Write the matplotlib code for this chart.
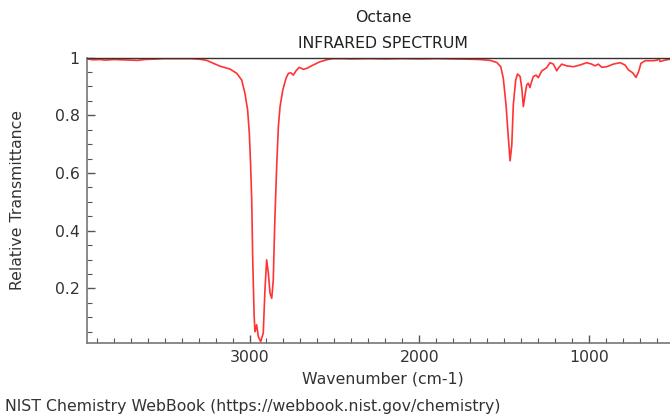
import matplotlib
matplotlib.use("Agg")
import matplotlib.pyplot as plt
from matplotlib.ticker import MultipleLocator, FixedLocator, FixedFormatter

plt.rcParams["font.family"] = ["DejaVu Sans"]

# Octane IR spectrum
wavenumber = [3959, 3920, 3880, 3850, 3800, 3750, 3700, 3660, 3620, 3580, 3540, 3500,
              3450, 3400, 3350, 3320, 3292, 3252, 3213, 3174, 3115, 3075, 3046, 3027,
              3011, 3001, 2993, 2987, 2981, 2973, 2968, 2958, 2948, 2934, 2919, 2909,
              2899, 2889, 2879, 2869, 2860, 2854, 2850, 2840, 2830, 2820, 2804, 2785,
              2771, 2757, 2742, 2726, 2707, 2683, 2660, 2625, 2586, 2540, 2508, 2450,
              2400, 2300, 2200, 2100, 2000, 1900, 1800, 1700, 1642, 1583, 1544, 1520,
              1505, 1489, 1475, 1465, 1455, 1446, 1432, 1421, 1406, 1396, 1387, 1377,
              1367, 1358, 1348, 1338, 1328, 1312, 1299, 1279, 1249, 1230, 1210, 1190,
              1181, 1161, 1131, 1092, 1053, 1014, 984, 965, 945, 925, 896, 857,
              817, 788, 768, 743, 723, 708, 694, 669, 620, 597, 589, 582,
              553, 523, 490, 450]
transmittance = [0.995, 0.992, 0.993, 0.991, 0.993, 0.992, 0.991, 0.990, 0.993, 0.994, 0.995, 0.996,
                 0.996, 0.996, 0.996, 0.995, 0.994, 0.990, 0.980, 0.970, 0.960, 0.945, 0.922, 0.876,
                 0.818, 0.737, 0.622, 0.506, 0.300, 0.110, 0.050, 0.074, 0.033, 0.016, 0.045, 0.195,
                 0.299, 0.253, 0.183, 0.166, 0.229, 0.368, 0.449, 0.622, 0.761, 0.830, 0.887, 0.928,
                 0.945, 0.947, 0.939, 0.954, 0.966, 0.959, 0.963, 0.974, 0.985, 0.993, 0.996, 0.996,
                 0.995, 0.996, 0.995, 0.996, 0.995, 0.996, 0.995, 0.994, 0.993, 0.990, 0.983, 0.968,
                 0.928, 0.836, 0.720, 0.642, 0.697, 0.836, 0.922, 0.943, 0.934, 0.893, 0.830, 0.870,
                 0.905, 0.911, 0.896, 0.917, 0.934, 0.939, 0.930, 0.953, 0.965, 0.982, 0.977, 0.954,
                 0.963, 0.977, 0.971, 0.968, 0.974, 0.982, 0.977, 0.971, 0.977, 0.966, 0.968, 0.977,
                 0.982, 0.974, 0.957, 0.947, 0.931, 0.951, 0.980, 0.989, 0.989, 0.991, 1.003, 0.986,
                 0.991, 0.994, 0.992, 0.990]

x_major = [3000, 2000, 1000]
x_labels = ["3000", "2000", "1000"]
y_major = [0.2, 0.4, 0.6, 0.8, 1.0]
y_labels = ["0.2", "0.4", "0.6", "0.8", "1"]

W, H = 670, 416
fig = plt.figure(figsize=(W / 100, H / 100), dpi=100)
ax = fig.add_axes([86.7 / W, (H - 343) / H, (682.4 - 86.7) / W, (343 - 57.5) / H])

ax.plot(wavenumber, transmittance, color="#ff3333", lw=1.2, clip_on=True)
ax.set_xlim(3959, 450)
ax.set_ylim(0.011, 1.0)

ax.xaxis.set_major_locator(FixedLocator(x_major))
ax.xaxis.set_major_formatter(FixedFormatter(x_labels))
ax.xaxis.set_minor_locator(MultipleLocator(100))
ax.yaxis.set_major_locator(FixedLocator(y_major))
ax.yaxis.set_major_formatter(FixedFormatter(y_labels))
ax.yaxis.set_minor_locator(MultipleLocator(0.05))

fs = 11.3
tc = "#333333"
ax.tick_params(which="both", direction="in", colors="#555555", labelcolor=tc, labelsize=fs)
ax.tick_params(which="major", length=6, width=1)
ax.tick_params(which="minor", length=3.5, width=0.8)
ax.tick_params(axis="x", pad=5)
ax.tick_params(axis="y", pad=5)

for s in ["left", "bottom"]:
    ax.spines[s].set_color("#777777")
    ax.spines[s].set_linewidth(1.2)
ax.spines["top"].set_color("#333333")
ax.spines["top"].set_linewidth(1.0)
ax.spines["right"].set_visible(False)

fig.text(383 / W, 1 - 18 / H, "Octane", ha="center", va="center", fontsize=fs, color="#222222")
fig.text(383 / W, 1 - 43 / H, "INFRARED SPECTRUM", ha="center", va="center", fontsize=fs, color="#222222")
fig.text(383 / W, 1 - 379 / H, "Wavenumber (cm-1)", ha="center", va="center", fontsize=fs, color=tc)
fig.text(18 / W, 1 - 200 / H, "Relative Transmittance", ha="center", va="center", rotation=90,
         fontsize=fs, color=tc)
fig.text(5 / W, 1 - 407 / H, "NIST Chemistry WebBook (https://webbook.nist.gov/chemistry)",
         ha="left", va="center", fontsize=fs, color=tc)

fig.savefig("out.png", dpi=100)
